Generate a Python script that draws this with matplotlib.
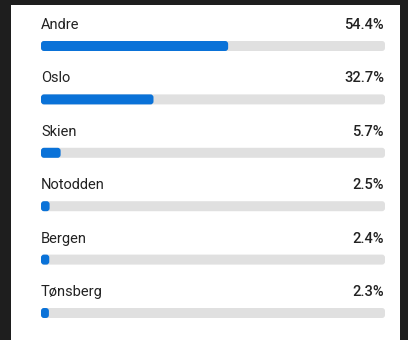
import matplotlib.pyplot as plt
from matplotlib.patches import FancyBboxPatch, Rectangle

cities = ["Andre", "Oslo", "Skien", "Notodden", "Bergen", "Tønsberg"]
shares = [54.4, 32.7, 5.7, 2.5, 2.4, 2.3]

BLUE = "#0a72d8"
TRACK = "#e0e0e0"
TEXT = "#222222"

W, H = 408, 340
fig = plt.figure(figsize=(W / 100, H / 100), dpi=100, facecolor="#1e1e1e")

# white card behind everything
fig.patches.append(Rectangle((11 / W, 0), 389 / W, 335 / H, transform=fig.transFigure,
                             facecolor="white", edgecolor="none", zorder=-10))

ax = fig.add_axes([41 / W, 0, 344 / W, 1])
ax.set_xlim(0, 100)
ax.set_ylim(H, 0)
ax.axis("off")

# pixel units along y, percent along x
px_x = 100 / 344
row0, step, bar_h = 46, 53.4, 10


def rounded(x0, width, yc, color):
    p = FancyBboxPatch((x0, yc - bar_h / 2), width, bar_h,
                       boxstyle=f"round,pad=0,rounding_size={3 * px_x}",
                       mutation_aspect=1 / px_x,
                       facecolor=color, edgecolor="none")
    ax.add_patch(p)


for i, (city, share) in enumerate(zip(cities, shares)):
    yc = row0 + step * i
    rounded(0, 100, yc, TRACK)
    rounded(0, share, yc, BLUE)
    ax.text(0, yc - 21, city, ha="left", va="center", fontsize=10.5,
            color=TEXT, family="Roboto")
    ax.text(99.7, yc - 21, f"{share:.1f}%", ha="right", va="center",
            fontsize=10.5, color=TEXT, family="Roboto", weight="medium")

fig.savefig("out.png", dpi=100, facecolor=fig.get_facecolor())
